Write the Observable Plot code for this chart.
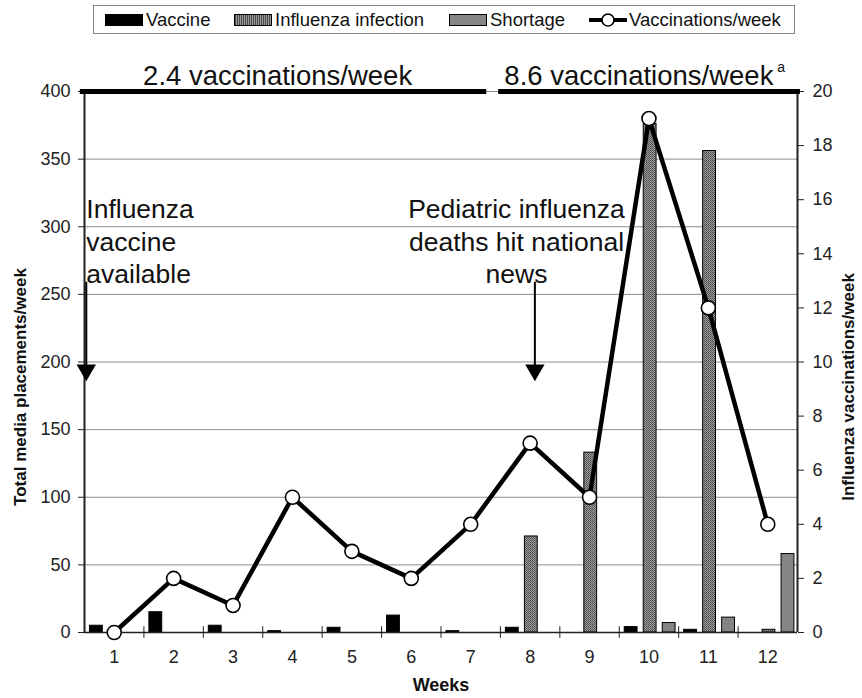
<!DOCTYPE html>
<html>
<head>
<meta charset="utf-8">
<script src="https://cdn.jsdelivr.net/npm/d3@7"></script>
<script src="https://cdn.jsdelivr.net/npm/@observablehq/plot@0.6"></script>
<style>
  body { margin: 0; background: #fff; font-family: "Liberation Sans", Arial, sans-serif; }
  #wrap { position: relative; width: 862px; height: 698px; overflow: hidden; }
  #legend { position: absolute; left: 93px; top: 5px; width: 700px; height: 27px; border: 1px solid #888; font-size: 18.5px; color: #111; }
  .item { position: absolute; top: 0; height: 27px; display: flex; align-items: center; white-space: nowrap; }
  .sw { display: inline-block; width: 38px; height: 12px; border: 1px solid #000; box-sizing: border-box; margin-right: 3px; }
  #chart { position: absolute; left: 0; top: 40px; }
</style>
</head>
<body>
<div id="wrap">
  <div id="legend"></div>
  <div id="chart"></div>
</div>
<script>
// ---- data ----
const weeks = [1, 2, 3, 4, 5, 6, 7, 8, 9, 10, 11, 12];
const vaccineMedia   = [5, 15, 5, 1, 3.5, 12.5, 1, 3.5, 0, 4, 2, 0];
const influenzaMedia = [0, 0, 0, 0, 0, 0, 0, 71, 133, 376, 356, 2];
const shortageMedia  = [0, 0, 0, 0, 0, 0, 0, 0, 0, 7, 11, 58];
const vaccinationsPerWeek = [0, 2, 1, 5, 3, 2, 4, 7, 5, 19, 12, 4];

const seriesNames = ["Vaccine", "Influenza infection", "Shortage"];
const legendLabels = ["Vaccine", "Influenza infection", "Shortage", "Vaccinations/week"];
const leftTicks = [0, 50, 100, 150, 200, 250, 300, 350, 400];
const rightTicks = [0, 2, 4, 6, 8, 10, 12, 14, 16, 18, 20];

const periodLabels = ["2.4 vaccinations/week", "8.6 vaccinations/week"];
const periodStart = [0.43, 7.47];
const periodEnd = [7.27, 12.55];
const periodLabelX = [3.75, 9.83];
const footnoteMark = [{ x: 12.16, text: "a" }];

const noteTexts = ["Influenza\nvaccine\navailable", "Pediatric influenza\ndeaths hit national\nnews"];
const noteX = [0.53, 7.77];
const arrowX = [0.53, 8.08];

// ---- styling constants ----
const RIGHT_MAX = 20, LEFT_MAX = 400, K = LEFT_MAX / RIGHT_MAX;
const offsets = { "Vaccine": -0.3, "Influenza infection": 0.02, "Shortage": 0.34 };
const halfW = 0.108;
const fills = { "Vaccine": "#000000", "Influenza infection": "#a1a1a1", "Shortage": "#858585" };

// ---- tables ----
const seriesValues = [vaccineMedia, influenzaMedia, shortageMedia];
const bars = [];
seriesNames.forEach((s, j) => weeks.forEach((w, i) => {
  if (seriesValues[j][i] > 0) bars.push({ week: w, type: s, value: seriesValues[j][i] });
}));
const lineData = weeks.map((w, i) => ({ week: w, v: vaccinationsPerWeek[i] }));
const periods = periodLabels.map((l, i) => ({ label: l, start: periodStart[i], end: periodEnd[i], lx: periodLabelX[i] }));
const notes = noteTexts.map((t, i) => ({ text: t, x: noteX[i] }));
const arrows = arrowX.map(x => ({ x }));
const boundaries = weeks.slice(1).map(w => w - 0.5);

const font = "Liberation Sans, Arial, sans-serif";

const barMarks = seriesNames.map(s => Plot.rect(bars.filter(d => d.type === s), {
  x1: d => d.week + offsets[s] - halfW,
  x2: d => d.week + offsets[s] + halfW,
  y1: 0, y2: "value",
  fill: fills[s], stroke: "#000", strokeWidth: 1
}));

const svg = Plot.plot({
  width: 862, height: 658,
  marginTop: 51, marginBottom: 66, marginLeft: 84, marginRight: 65,
  x: { domain: [0.5, 12.5] },
  y: { domain: [0, LEFT_MAX] },
  style: { fontFamily: font, color: "#111", background: "white", overflow: "visible" },
  marks: [
    Plot.ruleY(leftTicks.slice(1), { stroke: "#8c8c8c", strokeWidth: 1 }),
    ...barMarks,
    Plot.ruleX([0.5, 12.5], { y1: 0, y2: LEFT_MAX, stroke: "#222", strokeWidth: 2 }),
    Plot.ruleY([0], { x1: 0.5, x2: 12.5, stroke: "#222", strokeWidth: 1.5 }),
    Plot.ruleX(boundaries, { y1: -4.3, y2: 4.3, stroke: "#222", strokeWidth: 1 }),
    Plot.axisY({ anchor: "left", ticks: leftTicks, tickSize: 6, tickPadding: 8, fontSize: 18, label: null, stroke: "#222", fill: "#222" }),
    Plot.axisY({ anchor: "right", ticks: rightTicks.map(v => v * K), tickFormat: d => d / K, tickSize: 6, tickPadding: 9, fontSize: 18, label: null, stroke: "#222", fill: "#222" }),
    Plot.axisX({ ticks: weeks, tickSize: 0, tickPadding: 18, fontSize: 18, label: null, fill: "#222" }),
    // period bars & labels
    Plot.ruleY(periods, { y: LEFT_MAX, x1: "start", x2: "end", stroke: "#000", strokeWidth: 5 }),
    Plot.text(periods, { x: "lx", y: 411.5, text: "label", fontSize: 27.5, lineAnchor: "middle", fill: "#111" }),
    Plot.text(footnoteMark, { x: "x", y: 418, text: "text", fontSize: 14, textAnchor: "start", lineAnchor: "middle", fill: "#111" }),
    // annotations
    Plot.text(notes.slice(0, 1), { x: "x", y: 290, text: "text", textAnchor: "start", fontSize: 26.5, lineHeight: 1.21, lineAnchor: "middle", fill: "#111" }),
    Plot.text(notes.slice(1), { x: "x", y: 290, text: "text", textAnchor: "middle", fontSize: 26.5, lineHeight: 1.21, lineAnchor: "middle", fill: "#111" }),
    Plot.ruleX(arrows, { x: "x", y1: 259, y2: 196, stroke: "#000", strokeWidth: 2 }),
    Plot.dot(arrows, { x: "x", y: 194, symbol: "triangle", r: 7.2, rotate: 180, fill: "#000", stroke: "none" }),
    // vaccinations line
    Plot.line(lineData, { x: "week", y: d => d.v * K, stroke: "#000", strokeWidth: 4.5, strokeLinejoin: "miter" }),
    Plot.dot(lineData, { x: "week", y: d => d.v * K, r: 7, fill: "white", stroke: "#000", strokeWidth: 1.6 }),
    // axis titles
    Plot.text(["Total media placements/week"], { frameAnchor: "left", dx: -64, dy: 25, rotate: -90, textAnchor: "middle", text: d => d, fontWeight: "bold", fontSize: 17, fill: "#111" }),
    Plot.text(["Influenza vaccinations/week"], { frameAnchor: "right", dx: 51, dy: 25, rotate: -90, textAnchor: "middle", text: d => d, fontWeight: "bold", fontSize: 17, fill: "#111" }),
    Plot.text(["Weeks"], { frameAnchor: "bottom", dy: 58, text: d => d, fontWeight: "bold", fontSize: 18, fill: "#111" })
  ]
});

svg.insertAdjacentHTML("afterbegin",
  '<defs><pattern id="flu" width="2" height="2" patternUnits="userSpaceOnUse">' +
  '<rect width="2" height="2" fill="#9a9a9a"/><rect width="1" height="1" fill="#4a4a4a"/>' +
  '<rect x="1" y="1" width="1" height="1" fill="#606060"/></pattern></defs>');
d3.select(svg).selectAll('[fill="#a1a1a1"]').attr("fill", "url(#flu)");
document.getElementById("chart").appendChild(svg);

// ---- legend ----
const legend = document.getElementById("legend");
const legendLeft = [11, 140, 355, 494];
const swatchCss = [
  "background:#000",
  "background:repeating-linear-gradient(90deg,#4a4a4a 0 1px,#9a9a9a 1px 2px)",
  "background:#858585",
  null
];
legendLabels.forEach((lab, i) => {
  const it = document.createElement("div");
  it.className = "item";
  it.style.left = legendLeft[i] + "px";
  if (swatchCss[i]) {
    it.innerHTML = `<span class="sw" style="${swatchCss[i]}"></span><span>${lab}</span>`;
  } else {
    it.innerHTML = `<svg width="40" height="16" style="margin-right:1px"><line x1="1" y1="8" x2="39" y2="8" stroke="#000" stroke-width="4"/><circle cx="20" cy="8" r="6" fill="#fff" stroke="#000" stroke-width="1.6"/></svg><span>${lab}</span>`;
  }
  legend.appendChild(it);
});
</script>
</body>
</html>
